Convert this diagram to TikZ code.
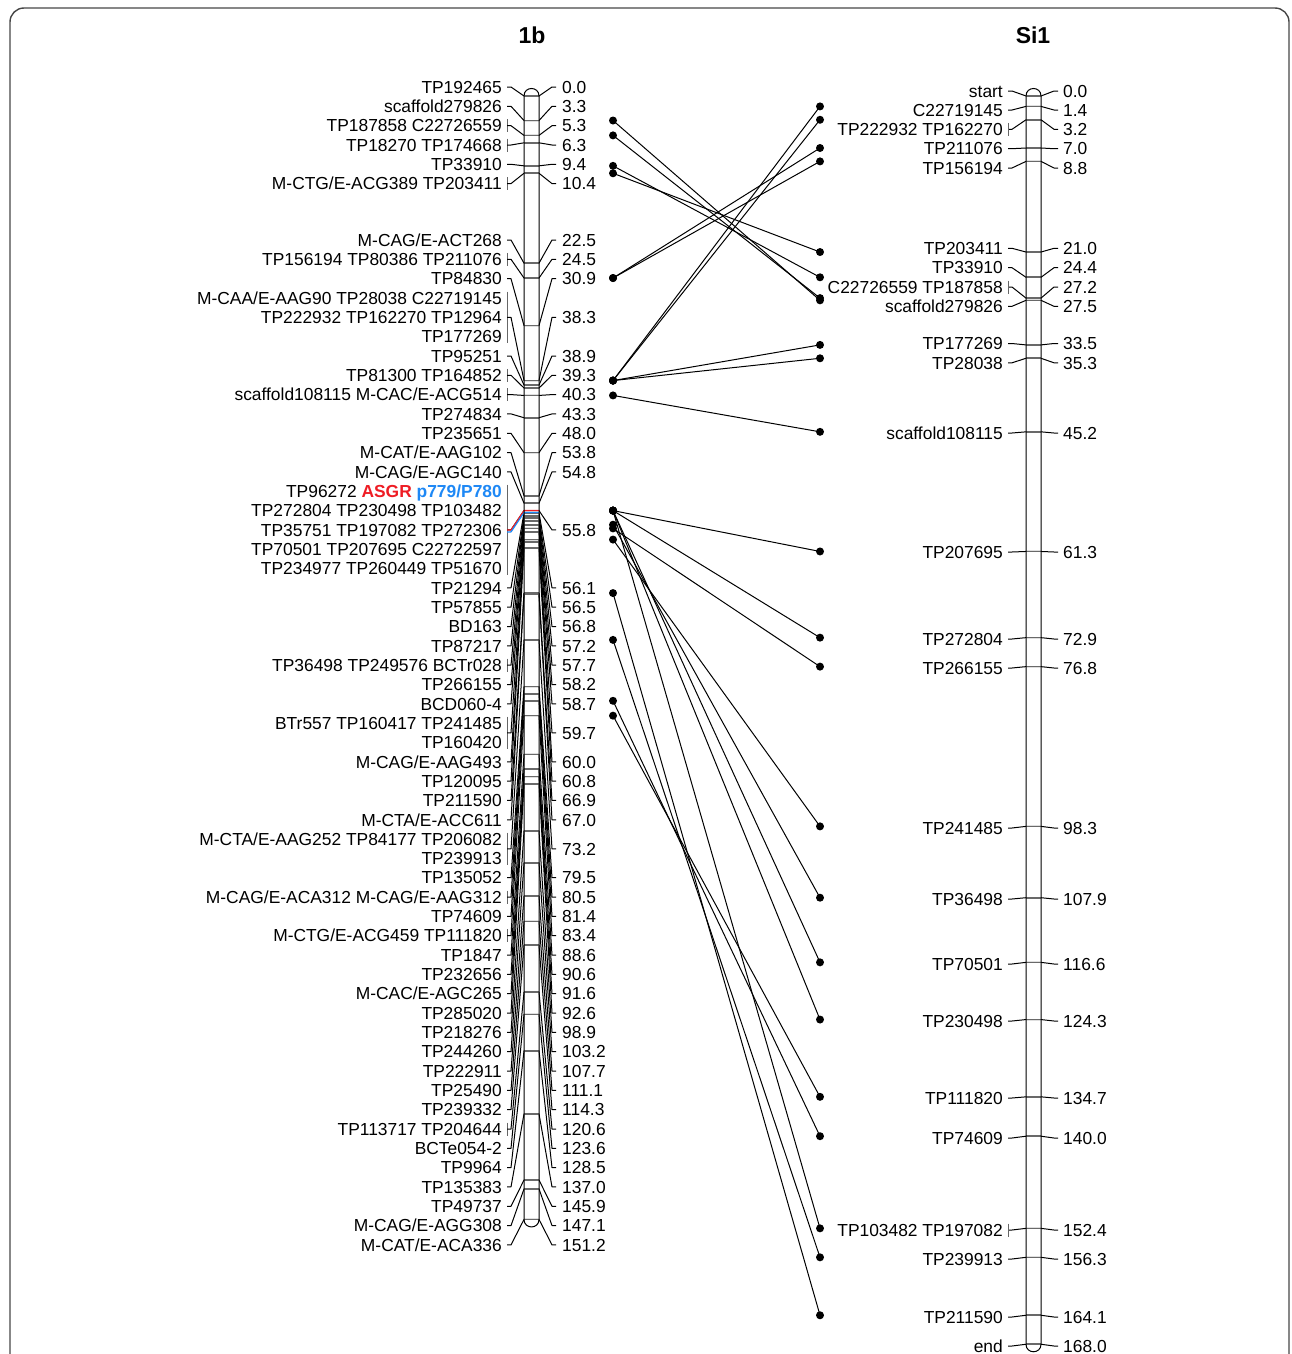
\documentclass[tikz,border=0pt]{standalone}
\usepackage{fontspec}
\setmainfont{Liberation Sans}
\usetikzlibrary{calc}
\definecolor{asgrred}{RGB}{238,28,36}
\definecolor{asgrblue}{RGB}{30,136,245}
\definecolor{tickgray}{RGB}{105,105,105}
\definecolor{framegray}{RGB}{70,70,70}
% cM -> page row (both maps share one scale)
\newcommand{\ymap}[1]{96+7.43*#1}

\begin{document}
\begin{tikzpicture}[
    x=1pt, y=-1pt,
    lab/.style={inner sep=0pt, anchor=east, text height=12.4pt, text depth=0pt, font=\fontsize{17.4}{19}\selectfont},
    num/.style={lab, anchor=west},
    title/.style={inner sep=0pt, font=\fontsize{23}{26}\selectfont\bfseries},
    conn/.style={line width=1pt, line join=round},
    tick/.style={line width=1.6pt, draw=tickgray},
    grp/.style={line width=1pt, draw=black!60},
    chrom/.style={line width=1pt},
    dot/.style={circle, fill=black, inner sep=0pt, minimum size=8pt},
    link/.style={line width=1pt}
]
\useasboundingbox (0,0) rectangle (1292,1354);
\draw[line width=1.4pt, framegray, rounded corners=14pt] (10,1380) -- (10,8) -- (1289,8) -- (1289,1380);

% Titles
\node[title] (t1b) at (532,35) {1b};
\node[title] (tsi) at (1033,35) {Si1};

% 1b labels
\foreach \r/\txt [count=\n] in {87/{TP192465}, 106.3/{scaffold279826}, 125.7/{TP187858 C22726559},
    145/{TP18270 TP174668}, 164.3/{TP33910}, 183.6/{M-CTG/E-ACG389 TP203411},
    240/{M-CAG/E-ACT268}, 259.3/{TP156194 TP80386 TP211076}, 278.7/{TP84830},
    298.0/{M-CAA/E-AAG90 TP28038 C22719145}, 317.3/{TP222932 TP162270 TP12964}, 336.6/{TP177269},
    356.0/{TP95251}, 375.3/{TP81300 TP164852}, 394.6/{scaffold108115 M-CAC/E-ACG514},
    413.9/{TP274834}, 433.3/{TP235651}, 452.6/{M-CAT/E-AAG102}, 471.9/{M-CAG/E-AGC140},
    510.6/{TP272804 TP230498 TP103482}, 529.9/{TP35751 TP197082 TP272306},
    549.2/{TP70501 TP207695 C22722597}, 568.5/{TP234977 TP260449 TP51670},
    587.9/{TP21294}, 607.2/{TP57855}, 626.5/{BD163}, 645.8/{TP87217},
    665.2/{TP36498 TP249576 BCTr028}, 684.5/{TP266155}, 703.8/{BCD060-4},
    723.1/{BTr557 TP160417 TP241485}, 742.5/{TP160420}, 761.8/{M-CAG/E-AAG493},
    781.1/{TP120095}, 800.4/{TP211590}, 819.8/{M-CTA/E-ACC611},
    839.1/{M-CTA/E-AAG252 TP84177 TP206082}, 858.4/{TP239913}, 877.7/{TP135052},
    897.1/{M-CAG/E-ACA312 M-CAG/E-AAG312}, 916.4/{TP74609}, 935.7/{M-CTG/E-ACG459 TP111820},
    955.0/{TP1847}, 974.4/{TP232656}, 993.7/{M-CAC/E-AGC265}, 1013.0/{TP285020},
    1032.3/{TP218276}, 1051.7/{TP244260}, 1071.0/{TP222911}, 1090.3/{TP25490},
    1109.6/{TP239332}, 1129.0/{TP113717 TP204644}, 1148.3/{BCTe054-2}, 1167.6/{TP9964},
    1186.9/{TP135383}, 1206.3/{TP49737}, 1225.6/{M-CAG/E-AGG308}, 1244.9/{M-CAT/E-ACA336}}
  \node[lab] (la\n) at (502,\r) {\txt};
\node[lab] (asgr) at (502,491.2) {TP96272 \textcolor{asgrred}{\bfseries ASGR} \textcolor{asgrblue}{\bfseries p779/P780}};

% 1b label brackets
\foreach \r in {125.7,145,183.6,259.3,375.3,394.6,665.2,897.1,935.7,1129.0}
  \draw[grp] (507,\r-6.5) -- (507,\r+6.5);
\draw[grp] (507,291.5) -- (507,343);
\draw[grp] (507,484.5) -- (507,575);
\draw[grp] (507,716.5) -- (507,749);
\draw[grp] (507,832.5) -- (507,865);

% 1b loci
\foreach \c/\r [count=\n] in {0.0/87, 3.3/106.3, 5.3/125.7, 6.3/145, 9.4/164.3, 10.4/183.6,
    22.5/240, 24.5/259.3, 30.9/278.7, 38.3/317.3, 38.9/356, 39.3/375.3, 40.3/394.6,
    43.3/413.9, 48.0/433.3, 53.8/452.6, 54.8/471.9, 55.8/529.9, 56.1/587.9, 56.5/607.2,
    56.8/626.5, 57.2/645.8, 57.7/665.2, 58.2/684.5, 58.7/703.8, 59.7/732.8, 60.0/761.8,
    60.8/781.1, 66.9/800.4, 67.0/819.8, 73.2/848.8, 79.5/877.7, 80.5/897.1, 81.4/916.4,
    83.4/935.7, 88.6/955.0, 90.6/974.4, 91.6/993.7, 92.6/1013.0, 98.9/1032.3, 103.2/1051.7,
    107.7/1071.0, 111.1/1090.3, 114.3/1109.6, 120.6/1129.0, 123.6/1148.3, 128.5/1167.6,
    137.0/1186.9, 145.9/1206.3, 147.1/1225.6, 151.2/1244.9}{
  \coordinate (ca\n) at (507,\r);
  \node[num] (na\n) at (562,\r) {\c};
  \draw[conn] (ca\n) -- ++(4,0) -- (524,{\ymap{\c}}) -- (539,{\ymap{\c}})
    -- ($(na\n.west)+(-10,0)$) -- ($(na\n.west)+(-6,0)$);
  \draw[tick] (524,{\ymap{\c}}) -- (539,{\ymap{\c}});
}
% ASGR locus
\draw[conn, asgrred, line width=1.2pt] (507,529.9) -- ++(4,0) -- (524,{\ymap{55.8}}) -- (539,{\ymap{55.8}});
\draw[conn, asgrblue, line width=1.2pt, yshift=-2pt] (507,529.9) -- ++(4,0) -- (524,{\ymap{55.8}}) -- (539,{\ymap{55.8}});

% 1b chromosome
\draw[chrom] (524,{\ymap{0}}) .. controls (524,{\ymap{0}-10}) and (539,{\ymap{0}-10}) .. (539,{\ymap{0}})
  -- (539,{\ymap{151.2}}) .. controls (539,{\ymap{151.2}+10}) and (524,{\ymap{151.2}+10}) .. (524,{\ymap{151.2}}) -- cycle;

% Si1 loci
\foreach \c/\r/\txt [count=\n] in {0.0/91/{start}, 1.4/110/{C22719145}, 3.2/129.3/{TP222932 TP162270},
    7.0/148.7/{TP211076}, 8.8/168/{TP156194}, 21.0/248.3/{TP203411}, 24.4/267.7/{TP33910},
    27.2/287/{C22726559 TP187858}, 27.5/306.3/{scaffold279826}, 33.5/343.5/{TP177269},
    35.3/362.8/{TP28038}, 45.2/433/{scaffold108115}, 61.3/552/{TP207695}, 72.9/639/{TP272804},
    76.8/668/{TP266155}, 98.3/828/{TP241485}, 107.9/899/{TP36498}, 116.6/964/{TP70501},
    124.3/1021/{TP230498}, 134.7/1098/{TP111820}, 140.0/1138/{TP74609},
    152.4/1230/{TP103482 TP197082}, 156.3/1259/{TP239913}, 164.1/1317/{TP211590}, 168.0/1346/{end}}{
  \node[lab] (lb\n) at (1003,\r) {\txt};
  \node[num] (nb\n) at (1063,\r) {\c};
  \draw[conn] ($(lb\n.east)+(5,0)$) -- ++(4,0) -- (1026,{\ymap{\c}}) -- (1041,{\ymap{\c}})
    -- ($(nb\n.west)+(-9,0)$) -- ($(nb\n.west)+(-5,0)$);
  \draw[tick] (1026,{\ymap{\c}}) -- (1041,{\ymap{\c}});
}
\foreach \r in {129.3,287,1230}
  \draw[grp] (1008,\r-6.5) -- (1008,\r+6.5);

% Si1 chromosome
\draw[chrom] (1026,{\ymap{0}}) .. controls (1026,{\ymap{0}-10}) and (1041,{\ymap{0}-10}) .. (1041,{\ymap{0}})
  -- (1041,{\ymap{168}}) .. controls (1041,{\ymap{168}+10}) and (1026,{\ymap{168}+10}) .. (1026,{\ymap{168}}) -- cycle;

% Shared markers: 1b cM / Si1 cM
\foreach \a/\b [count=\n] in {3.3/27.5, 5.3/27.2, 9.4/24.4, 10.4/21.0, 24.5/8.8, 24.5/7.0,
    38.3/1.4, 38.3/3.2, 38.3/33.5, 38.3/35.3, 40.3/45.2, 55.8/61.3, 55.8/72.9, 55.8/116.6,
    55.8/124.3, 55.8/152.4, 57.7/107.9, 58.2/76.8, 59.7/98.3, 66.9/164.1, 73.2/156.3,
    81.4/140.0, 83.4/134.7}{
  \node[dot] (p\n) at (613,{\ymap{\a}}) {};
  \node[dot] (q\n) at (820,{\ymap{\b}}) {};
  \draw[link] (p\n.center) -- (q\n.center);
}
\end{tikzpicture}
\end{document}
